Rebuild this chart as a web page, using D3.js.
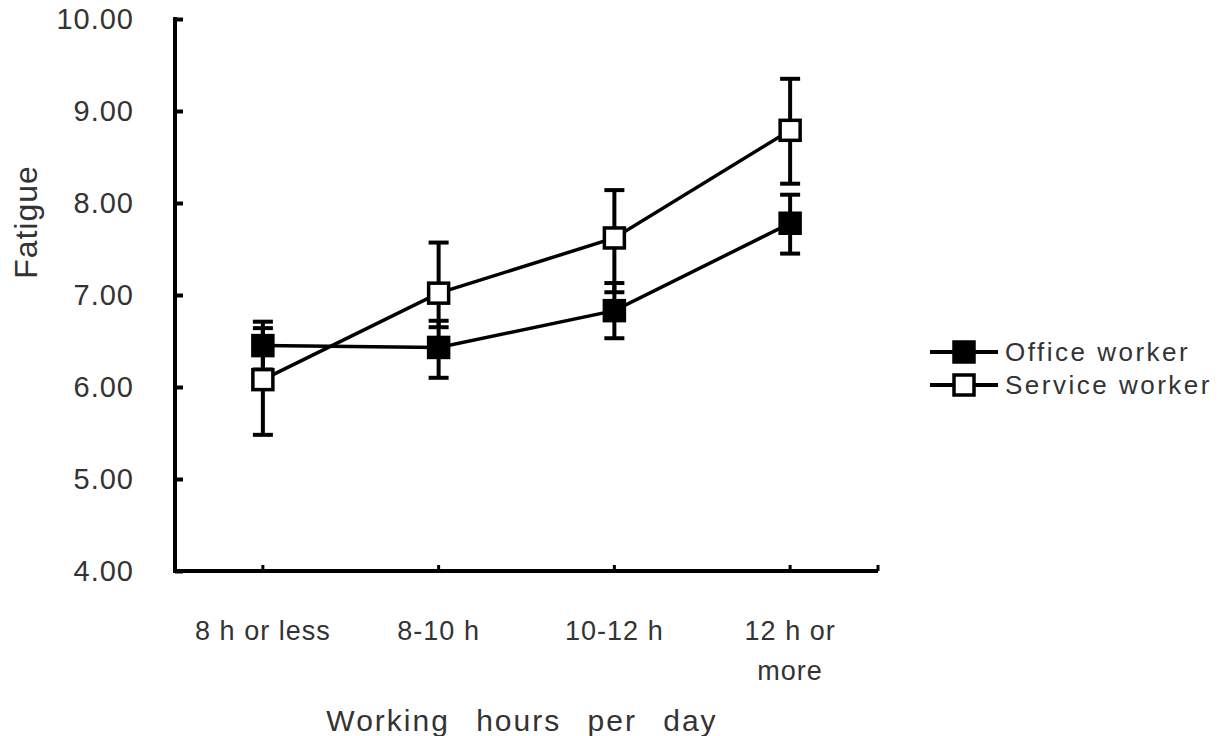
<!DOCTYPE html>
<html>
<head>
<meta charset="utf-8">
<title>Fatigue by working hours</title>
<script src="https://d3js.org/d3.v7.min.js"></script>
<style>
  body { margin: 0; background: #fff; }
  text { font-family: "Liberation Sans", Arial, sans-serif; fill: #333; }
</style>
</head>
<body>
<div id="chart"></div>
<script>
// data
var categories = ["8 h or less", "8-10 h", "10-12 h", "12 h or more"];
var yTicks = [4, 5, 6, 7, 8, 9, 10];

var officeMean = [6.45, 6.43, 6.83, 7.78];
var officeLow  = [6.19, 6.10, 6.53, 7.45];
var officeHigh = [6.71, 6.72, 7.13, 8.09];

var serviceMean = [6.08, 7.02, 7.62, 8.79];
var serviceLow  = [5.48, 6.65, 7.03, 8.21];
var serviceHigh = [6.64, 7.57, 8.14, 9.35];

var series = [
  {name: "Office worker", mean: officeMean, low: officeLow, high: officeHigh, fill: "#000"},
  {name: "Service worker", mean: serviceMean, low: serviceLow, high: serviceHigh, fill: "#fff"}
];

var W = 1222, H = 736;
var margin = {top: 19, right: 344, bottom: 165, left: 175};

var svg = d3.select("#chart").append("svg")
    .attr("width", W)
    .attr("height", H);

var x = d3.scaleBand()
    .domain(categories)
    .range([margin.left, W - margin.right]);

var y = d3.scaleLinear()
    .domain([4, 10])
    .range([H - margin.bottom, margin.top]);

function cx(c) { return x(c) + x.bandwidth() / 2; }

// y axis
var yAxis = d3.axisRight(y)
    .tickValues(yTicks)
    .tickSize(8)
    .tickFormat("");
var gy = svg.append("g")
    .attr("transform", "translate(" + margin.left + ",0)")
    .call(yAxis);
gy.select(".domain").attr("stroke", "#000").attr("stroke-width", 4)
    .attr("d", "M0," + (y(10) - 2) + "V" + (y(4) + 2));
gy.selectAll(".tick line").attr("stroke", "#000").attr("stroke-width", 4);

svg.append("g").selectAll("text")
    .data(yTicks)
  .enter().append("text")
    .attr("x", 134)
    .attr("y", function(d) { return y(d); })
    .attr("dy", "0.36em")
    .attr("text-anchor", "end")
    .style("font-size", "29px")
    .style("letter-spacing", "1px")
    .text(function(d) { return d.toFixed(2); });

// x axis
var xAxis = d3.axisTop(x)
    .tickSize(6)
    .tickFormat("");
var gx = svg.append("g")
    .attr("transform", "translate(0," + y(4) + ")")
    .call(xAxis);
gx.select(".domain").attr("stroke", "#000").attr("stroke-width", 4)
    .attr("d", "M" + (margin.left - 2) + ",0H" + (W - margin.right));
gx.selectAll(".tick line").attr("stroke", "#000").attr("stroke-width", 3);
gx.append("line")
    .attr("x1", W - margin.right).attr("x2", W - margin.right)
    .attr("y1", 0).attr("y2", -6)
    .attr("stroke", "#000").attr("stroke-width", 3);

var xlab = svg.append("g").selectAll("text")
    .data(categories)
  .enter().append("text")
    .attr("x", function(d) { return cx(d); })
    .attr("y", 640)
    .attr("text-anchor", "middle")
    .style("font-size", "27px")
    .style("letter-spacing", "1px");
xlab.each(function(d) {
  var t = d3.select(this);
  var parts = d === "12 h or more" ? ["12 h or", "more"] : [d];
  parts.forEach(function(p, i) {
    t.append("tspan").attr("x", cx(d)).attr("dy", i ? 40 : 0).text(p);
  });
});

// axis titles
svg.append("text")
    .attr("transform", "translate(37,222) rotate(-90)")
    .attr("text-anchor", "middle")
    .style("font-size", "32px")
    .style("letter-spacing", "1px")
    .text("Fatigue");

svg.append("text")
    .attr("x", 522)
    .attr("y", 731)
    .attr("text-anchor", "middle")
    .style("font-size", "30px")
    .style("letter-spacing", "2px")
    .style("word-spacing", "16px")
    .text("Working hours per day");

// series
var line = d3.line()
    .x(function(d) { return cx(d.c); })
    .y(function(d) { return y(d.v); });

series.forEach(function(s) {
  var pts = categories.map(function(c, i) {
    return {c: c, v: s.mean[i], lo: s.low[i], hi: s.high[i]};
  });
  var g = svg.append("g");

  // error bars
  g.selectAll(".eb").data(pts).enter().append("line")
      .attr("x1", function(d) { return cx(d.c); })
      .attr("x2", function(d) { return cx(d.c); })
      .attr("y1", function(d) { return y(d.lo); })
      .attr("y2", function(d) { return y(d.hi); })
      .attr("stroke", "#000").attr("stroke-width", 4);
  ["lo", "hi"].forEach(function(k) {
    g.selectAll(".cap-" + k).data(pts).enter().append("line")
        .attr("x1", function(d) { return cx(d.c) - 10; })
        .attr("x2", function(d) { return cx(d.c) + 10; })
        .attr("y1", function(d) { return y(d[k]); })
        .attr("y2", function(d) { return y(d[k]); })
        .attr("stroke", "#000").attr("stroke-width", 4);
  });

  g.append("path")
      .datum(pts)
      .attr("d", line)
      .attr("fill", "none")
      .attr("stroke", "#000")
      .attr("stroke-width", 3.5);

  g.selectAll("rect").data(pts).enter().append("rect")
      .attr("x", function(d) { return cx(d.c) - 10; })
      .attr("y", function(d) { return y(d.v) - 10; })
      .attr("width", 20)
      .attr("height", 20)
      .attr("fill", s.fill)
      .attr("stroke", "#000")
      .attr("stroke-width", 3.5);
});

// legend
var legend = svg.append("g").selectAll("g")
    .data(series)
  .enter().append("g")
    .attr("transform", function(d, i) { return "translate(930," + (352 + i * 33) + ")"; });
legend.append("line")
    .attr("x1", 0).attr("x2", 68)
    .attr("stroke", "#000").attr("stroke-width", 4);
legend.append("rect")
    .attr("x", 24).attr("y", -10)
    .attr("width", 20).attr("height", 20)
    .attr("fill", function(d) { return d.fill; })
    .attr("stroke", "#000").attr("stroke-width", 3.5);
legend.append("text")
    .attr("x", 75)
    .attr("dy", "0.36em")
    .style("font-size", "26px")
    .style("letter-spacing", "2.5px")
    .text(function(d) { return d.name; });
</script>
</body>
</html>
